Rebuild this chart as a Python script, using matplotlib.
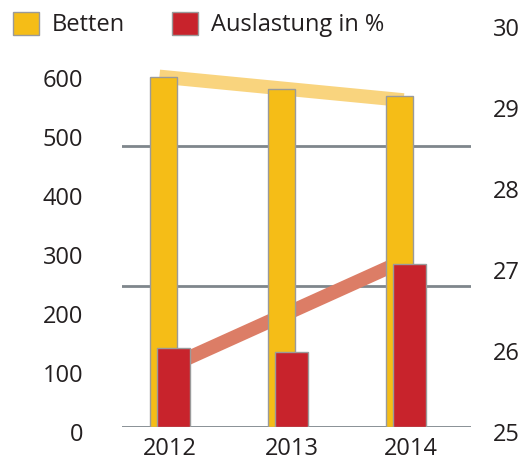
import matplotlib
matplotlib.use("Agg")
import matplotlib.pyplot as plt
import matplotlib.transforms as mtransforms
from matplotlib.patches import Patch
import numpy as np

plt.rcParams['font.family'] = ['Open Sans', 'DejaVu Sans']

years = ['2012', '2013', '2014']
betten = [593, 573, 561]
auslastung = [25.98, 25.92, 27.01]
# trend bands (start/end values)
betten_trend = [594, 554]
auslastung_trend = [25.77, 27.02]

left_ticks = [0, 100, 200, 300, 400, 500, 600]
right_ticks = [25, 26, 27, 28, 29, 30]

yellow = '#F5BD17'
red = '#C8232C'
yellow_trend = '#F9D47E'
red_trend = '#DC7D66'
edge = '#9A9A9A'
grid_c = '#7F868C'
text_c = '#231F20'
fs = 17

W, H = 522, 461
fig = plt.figure(figsize=(W / 100, H / 100), dpi=100)
rect = [122 / W, (H - 427) / H, (471 - 122) / W, (427 - 5) / H]
ax = fig.add_axes(rect)
ax3 = ax.twinx()   # red trend band (bottom layer)
ax2 = ax.twinx()   # red bars (top layer)

x = np.arange(len(years))
LTOP = 715.3
RLIM = (25, 30.21)
ax.set_xlim(-0.407, 2.551)
ax.set_ylim(0, LTOP)
ax2.set_ylim(*RLIM)
ax3.set_ylim(*RLIM)

# gridlines at thirds of plot height (bottom layer)
for f in [0, 1 / 3, 2 / 3]:
    ax3.axhline(RLIM[0] + f * (RLIM[1] - RLIM[0]), color=grid_c, lw=2, zorder=0.5)

ax3.plot([0.03, 1.93], auslastung_trend, color=red_trend, lw=10, solid_capstyle='butt', zorder=1)

ax.plot([-0.09, 1.98], betten_trend, color=yellow_trend, lw=10, solid_capstyle='butt', zorder=1)
ax.bar(x - 0.055, betten, width=0.229, color=yellow, edgecolor=edge, linewidth=1, zorder=2)

ax2.bar(x + 0.03, [v - 25 for v in auslastung], bottom=25, width=0.28,
        color=red, edgecolor=edge, linewidth=1, zorder=2)

ax3.set_zorder(0)
ax.set_zorder(1)
ax2.set_zorder(2)
for a in (ax, ax2, ax3):
    a.patch.set_visible(False)
    for s in a.spines.values():
        s.set_visible(False)

ax3.set_yticks([])
ax3.tick_params(axis='both', length=0)

ax.set_xticks(x + np.array([0.0, 0.03, 0.04]))
ax.set_xticklabels(years)
ax.set_yticks(left_ticks)
ax.set_yticklabels([str(t) for t in left_ticks])
ax2.set_yticks(right_ticks)
ax2.set_yticklabels([str(t) for t in right_ticks])

ax.tick_params(axis='x', length=0, pad=7.5, labelsize=fs, labelcolor=text_c)
ax.tick_params(axis='y', length=0, pad=28, labelsize=fs, labelcolor=text_c)
ax2.tick_params(axis='y', length=0, pad=16, labelsize=fs, labelcolor=text_c)

off = mtransforms.ScaledTranslation(0, -0.05, fig.dpi_scale_trans)
for a in (ax, ax2):
    for lab in a.get_yticklabels():
        lab.set_transform(lab.get_transform() + off)

handles = [Patch(facecolor=yellow, edgecolor=edge, linewidth=1, label='Betten'),
           Patch(facecolor=red, edgecolor=edge, linewidth=1, label='Auslastung in %')]
fig.legend(handles=handles, loc='upper left', bbox_to_anchor=(13 / W, 1 - 12 / H),
           ncol=2, frameon=False, fontsize=fs, handlelength=1.1, handleheight=1.1,
           handletextpad=0.55, columnspacing=2.0, borderpad=0, borderaxespad=0,
           labelcolor=text_c)

fig.savefig('out.png', dpi=100)
